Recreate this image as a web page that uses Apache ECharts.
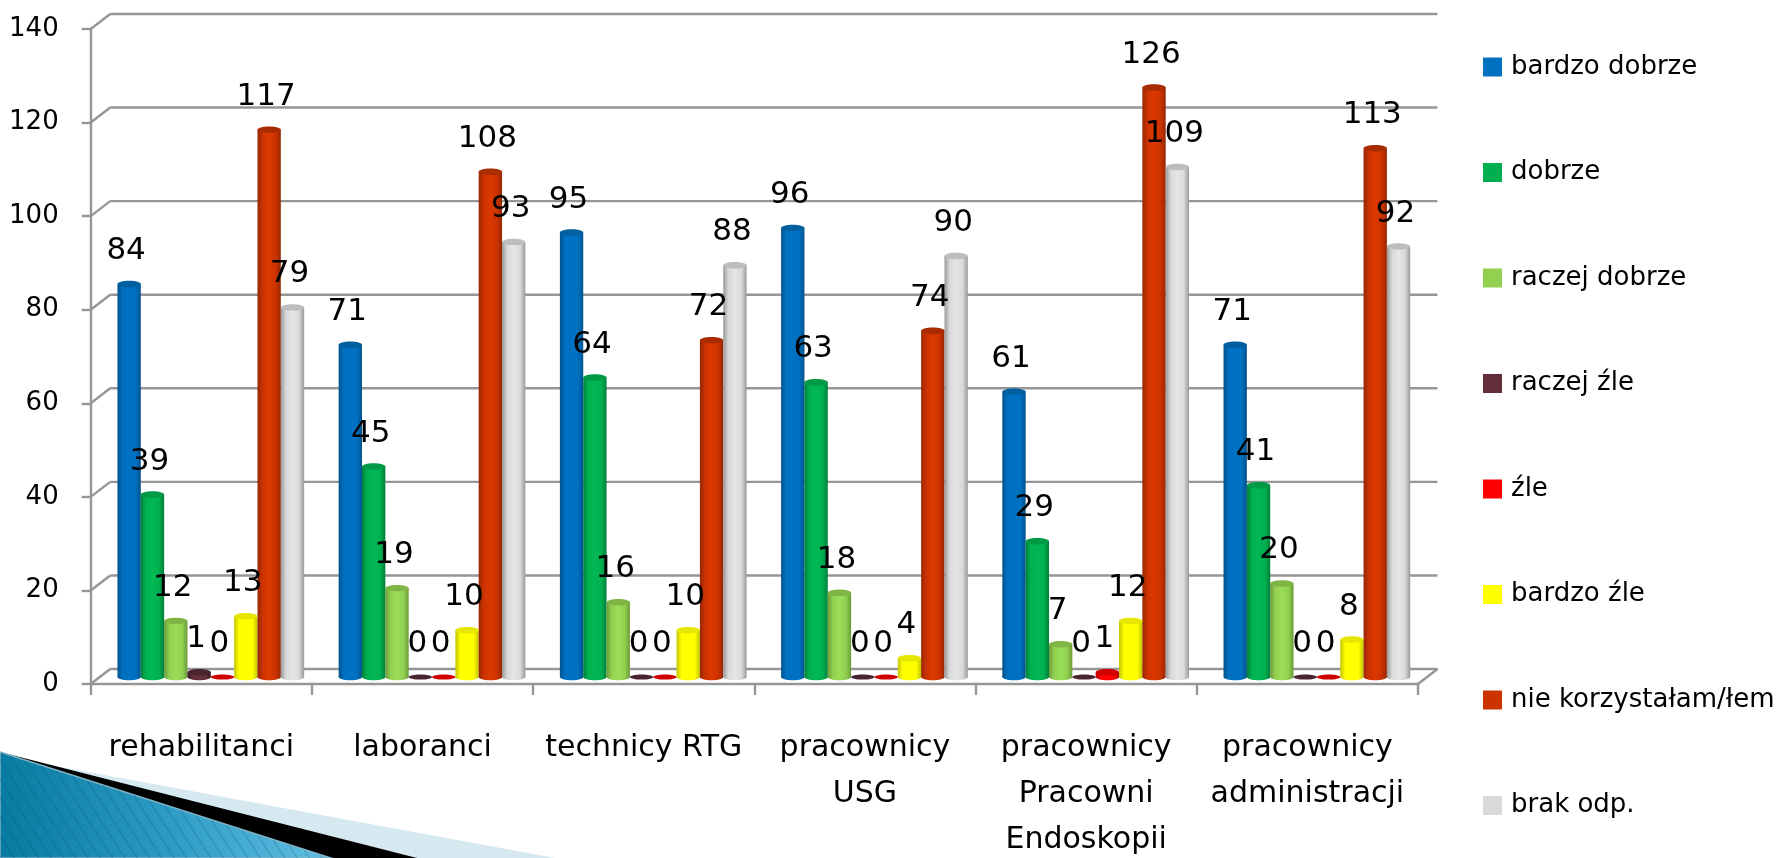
<!DOCTYPE html>
<html><head><meta charset="utf-8">
<style>html,body{margin:0;padding:0;background:#fff}#c{width:1779px;height:858px}</style>
<script src="https://cdn.jsdelivr.net/npm/echarts@6/dist/echarts.min.js"></script>
</head><body><div id="c"></div>
<script>
const categories = ['rehabilitanci','laboranci','technicy RTG','pracownicy\nUSG','pracownicy\nPracowni\nEndoskopii','pracownicy\nadministracji'];
const yTicks = [0,20,40,60,80,100,120,140];
const seriesNames = ['bardzo dobrze','dobrze','raczej dobrze','raczej źle','źle','bardzo źle','nie korzystałam/łem','brak odp.'];
const bardzoDobrze = [84,71,95,96,61,71];
const dobrze = [39,45,64,63,29,41];
const raczejDobrze = [12,19,16,18,7,20];
const raczejZle = [1,0,0,0,0,0];
const zle = [0,0,0,0,1,0];
const bardzoZle = [13,10,10,4,12,8];
const nieKorzystalam = [117,108,72,74,126,113];
const brakOdp = [79,93,88,90,109,92];
const seriesValues = [bardzoDobrze,dobrze,raczejDobrze,raczejZle,zle,bardzoZle,nieKorzystalam,brakOdp];
const colors = ['#0070C0','#00B050','#92D050','#632E3A','#FF0000','#FFFF00','#CC3300','#D9D9D9'];
const sideColors = ['#00528c','#007f3a','#6a9a38','#3d1a24','#b00000','#c4c400','#962600','#999999'];
const midColors = ['#0072c4','#00b854','#9ade58','#632E3A','#FF0000','#FFFF00','#dc3800','#e6e6e6'];
const capColors = ['#00609f','#009a46','#7fb545','#4a2530','#d00000','#e6e600','#a82c00','#bdbdbd'];

const FONT = '"DejaVu Sans"';
const GRID = {left:90.7, top:29, w:1327.3, h:655};
const BACK = {dx:19.5, dy:-15};
const BAR = {dx:9.5, dy:-7, band:0.1055, ry:3.2};
const FRAME = '#969696';

function renderFrame(params, api){
  const v = api.value(0), cs = params.coordSys;
  const y = api.coord([0, v])[1], x0 = cs.x, x1 = cs.x + cs.width;
  const st = {stroke:FRAME, lineWidth:2.4};
  const kids = [
    {type:'line', shape:{x1:x0,y1:y,x2:x0+BACK.dx,y2:y+BACK.dy}, style:st},
    {type:'line', shape:{x1:x0+BACK.dx,y1:y+BACK.dy,x2:x1+BACK.dx,y2:y+BACK.dy}, style:st}
  ];
  if (v === 0) kids.push({type:'line', shape:{x1:x1,y1:y,x2:x1+BACK.dx,y2:y+BACK.dy}, style:st});
  return {type:'group', children:kids};
}
function renderCyl(si){
  return function(params, api){
    const cat = api.value(0), val = api.value(1);
    const band = api.size([1,0])[0], w = band*BAR.band;
    const base = api.coord([cat,0]), top = api.coord([cat,val]);
    const cx = base[0] + BAR.dx + (si-3.5)*w;
    const y0 = base[1] + BAR.dy, y1 = top[1] + BAR.dy;
    const rx = w/2, ry = val===0 ? 2.6 : BAR.ry;
    const grad = {type:'linear',x:0,y:0,x2:1,y2:0,colorStops:[
      {offset:0,color:sideColors[si]},{offset:0.22,color:colors[si]},
      {offset:0.5,color:midColors[si]},{offset:0.78,color:colors[si]},{offset:1,color:sideColors[si]}]};
    const kids = [];
    if (val > 0){
      kids.push({type:'ellipse', shape:{cx:cx,cy:y0,rx:rx,ry:ry}, style:{fill:grad}, z2:10});
      kids.push({type:'rect', shape:{x:cx-rx,y:y1,width:w,height:y0-y1}, style:{fill:grad}, z2:10});
    }
    kids.push({type:'ellipse', shape:{cx:cx,cy:y1,rx:rx,ry:ry}, style:{fill:capColors[si]}, z2:11});
    kids.push({type:'text', x:cx-3, y:y1-33, z2:100, style:{text:String(val), fill:'#000', font:'31px '+FONT, align:'center', verticalAlign:'middle'}});
    return {type:'group', children:kids};
  };
}

const barSeries = seriesNames.map((n,si)=>({
  type:'custom', name:n, coordinateSystem:'cartesian2d', z:3,
  itemStyle:{color:colors[si]},
  encode:{x:0,y:1},
  data:seriesValues[si].map((v,i)=>[i,v]),
  renderItem:renderCyl(si), clip:false, silent:true
}));

// decorative slide corner: thin diagonal stripes on the blue wedge
const stripes = [];
const STRIPE_SLOPE = 1.55;
for (let x=-300; x<340; x+=15.5){
  let xa = x, ya = 753 + 0.32*x;
  if (x < 0){ xa = 0; ya = 753 + 0.32*x + (0-x)*STRIPE_SLOPE; }
  if (ya >= 858) continue;
  stripes.push({type:'line', z:-1, shape:{x1:xa,y1:ya,x2:xa+(858-ya)/STRIPE_SLOPE,y2:858},
    style:{stroke:'rgba(10,70,105,0.2)', lineWidth:1.4}});
}
const chart = echarts.init(document.getElementById('c'), null, {renderer:'canvas'});
chart.setOption({
  animation:false, backgroundColor:'#fff',
  textStyle:{fontFamily:FONT},
  grid:{left:GRID.left, top:GRID.top, width:GRID.w, height:GRID.h, containLabel:false, outerBoundsMode:'none'},
  legend:{orient:'vertical', left:1483, top:54, padding:0, itemWidth:19, itemHeight:19, itemGap:79.5, icon:'rect',
    data:seriesNames, selectedMode:false,
    textStyle:{fontSize:26, color:'#000', fontFamily:FONT, padding:[0,0,8,4]}},
  xAxis:{type:'category', data:categories, boundaryGap:true,
    axisLine:{lineStyle:{color:FRAME,width:2.4}}, axisTick:{show:true,alignWithLabel:false,length:11,lineStyle:{color:FRAME,width:2.4}},
    axisLabel:{color:'#000',fontSize:30,fontFamily:FONT,margin:41,lineHeight:46,interval:0},splitLine:{show:false}},
  yAxis:{type:'value', min:0, max:140, interval:20,
    axisLine:{show:true,lineStyle:{color:FRAME,width:2.4}}, axisTick:{show:true,length:9,lineStyle:{color:FRAME,width:2.4}},
    axisLabel:{color:'#000',fontSize:26,fontFamily:FONT,margin:32},splitLine:{show:false}},
  graphic:{elements:[
    {type:'polygon',z:-3,shape:{points:[[50,765],[555,858],[0,858]]},style:{fill:'#d6e8f0'}},
    {type:'polygon',z:-2,shape:{points:[[0,752],[417,858],[0,858]]},style:{fill:'#000'}},
    {type:'polygon',z:-2,shape:{points:[[0,752],[331,858],[0,858]]},style:{
      stroke:'#7fb4c8',lineWidth:1.5,
      fill:{type:'linear',x:0,y:1,x2:1,y2:0.75,colorStops:[{offset:0,color:'#067a9f'},{offset:0.5,color:'#2b9ac4'},{offset:1,color:'#62c0e2'}]}}},
    ...stripes
  ]},
  series:[
    {type:'custom', name:'frame', coordinateSystem:'cartesian2d', z:1, silent:true, clip:false,
     encode:{y:0}, data:yTicks.map(v=>[v]), renderItem:renderFrame},
    ...barSeries
  ]
});
</script></body></html>
